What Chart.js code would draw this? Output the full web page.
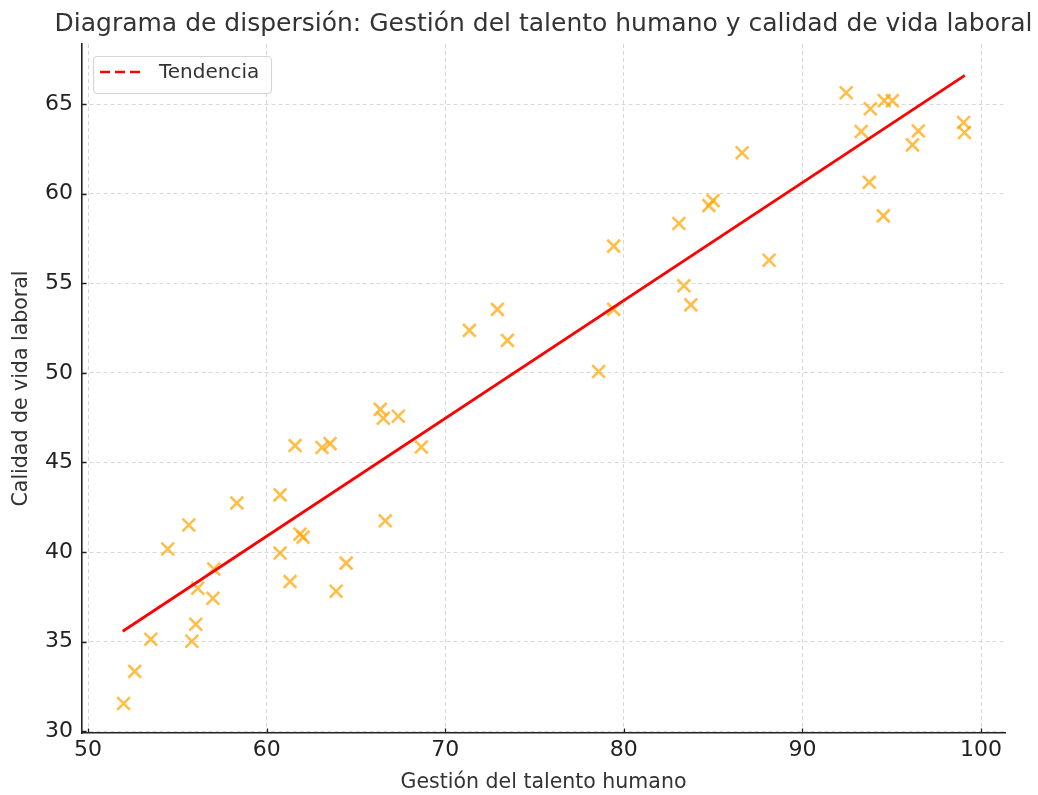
<!DOCTYPE html>
<html>
<head>
<meta charset="utf-8">
<script src="https://cdn.jsdelivr.net/npm/chart.js@4"></script>
<style>
  body { margin: 0; background: #fff; }
  canvas { display: block; }
</style>
</head>
<body>
<canvas id="chart" width="1038" height="795"></canvas>
<script>
// datos
const talento = [51.99, 52.61, 53.51, 54.46, 55.64, 55.81, 56.03, 56.14, 56.99, 57.04,
  58.33, 60.75, 60.75, 61.31, 61.59, 61.87, 62.04, 63.10, 63.55, 63.89,
  64.45, 66.36, 66.53, 66.64, 67.37, 68.66, 71.35, 72.92, 73.48, 78.59,
  79.43, 79.43, 83.08, 83.36, 83.75, 84.76, 84.99, 86.62, 88.13, 92.45,
  93.29, 93.74, 93.80, 94.53, 94.58, 95.03, 96.16, 96.49, 99.02, 99.07];
const calidad = [31.55, 33.34, 35.13, 40.17, 41.51, 35.02, 35.97, 37.98, 37.42, 39.05,
  42.74, 39.94, 43.19, 38.35, 45.94, 41.00, 40.83, 45.83, 46.05, 37.81,
  39.38, 47.96, 47.46, 41.74, 47.58, 45.86, 52.37, 53.54, 51.81, 50.07,
  57.07, 53.54, 58.33, 54.86, 53.79, 59.33, 59.61, 62.28, 56.28, 65.63,
  63.47, 60.63, 64.74, 58.76, 65.19, 65.19, 62.72, 63.50, 63.97, 63.41];

const tendenciaX = [51.94, 99.09];
const tendenciaY = [35.58, 66.6];

const xTicks = [50, 60, 70, 80, 90, 100];
const yTicks = [30, 35, 40, 45, 50, 55, 60, 65];

const titulo = 'Diagrama de dispersión: Gestión del talento humano y calidad de vida laboral';

const puntos = talento.map((x, i) => ({ x: x, y: calidad[i] }));
const lineaTendencia = tendenciaX.map((x, i) => ({ x: x, y: tendenciaY[i] }));

const FONT = "'DejaVu Sans', sans-serif";

// título centrado sobre el área, leyenda dentro y marcas de eje hacia dentro
const extrasPlugin = {
  id: 'extras',
  afterDraw(chart) {
    const ctx = chart.ctx;
    const area = chart.chartArea;
    const sx = chart.scales.x, sy = chart.scales.y;

    ctx.save();
    ctx.fillStyle = '#333';
    ctx.font = '25px ' + FONT;
    ctx.textAlign = 'center';
    ctx.textBaseline = 'middle';
    ctx.fillText(titulo, (area.left + area.right) / 2, 24);
    ctx.textAlign = 'left';

    ctx.strokeStyle = '#222';
    ctx.lineWidth = 1.3;
    ctx.beginPath();
    xTicks.forEach(v => {
      const px = Math.round(sx.getPixelForValue(v)) + 0.5;
      ctx.moveTo(px, area.bottom);
      ctx.lineTo(px, area.bottom - 4.5);
    });
    yTicks.forEach(v => {
      const py = Math.round(sy.getPixelForValue(v)) + 0.5;
      ctx.moveTo(area.left, py);
      ctx.lineTo(area.left + 4.5, py);
    });
    ctx.stroke();

    const x = area.left + 11, y = area.top + 12, w = 178, h = 37;
    ctx.fillStyle = 'rgba(255,255,255,0.8)';
    ctx.strokeStyle = '#d6d6d6';
    ctx.lineWidth = 1.2;
    ctx.beginPath();
    ctx.roundRect(x + 0.5, y + 0.5, w, h, 4);
    ctx.fill();
    ctx.stroke();
    ctx.strokeStyle = 'red';
    ctx.lineWidth = 2.6;
    ctx.setLineDash([10, 5]);
    ctx.beginPath();
    ctx.moveTo(x + 7, y + 16);
    ctx.lineTo(x + 50, y + 16);
    ctx.stroke();
    ctx.setLineDash([]);
    ctx.fillStyle = '#333';
    ctx.font = '20px ' + FONT;
    ctx.fillText(chart.data.datasets[1].label, x + 66, y + 17);
    ctx.restore();
  }
};

new Chart(document.getElementById('chart').getContext('2d'), {
  type: 'scatter',
  data: {
    datasets: [
      {
        label: 'Datos',
        data: puntos,
        pointStyle: 'crossRot',
        pointRadius: 9,
        pointHoverRadius: 9,
        borderWidth: 2.6,
        borderColor: 'rgba(255,165,0,0.72)',
        backgroundColor: 'rgba(255,165,0,0.72)',
        order: 2
      },
      {
        label: 'Tendencia',
        data: lineaTendencia,
        type: 'line',
        showLine: true,
        borderColor: 'red',
        borderWidth: 2.8,
        pointRadius: 0,
        fill: false,
        order: 1
      }
    ]
  },
  options: {
    responsive: false,
    animation: false,
    layout: { padding: { left: 0, right: 33, top: 44, bottom: 0 } },
    plugins: {
      legend: { display: false },
      tooltip: { enabled: false },
      title: { display: false }
    },
    scales: {
      x: {
        type: 'linear',
        min: 49.66,
        max: 101.34,
        afterBuildTicks: s => { s.ticks = xTicks.map(v => ({ value: v })); },
        afterFit: s => { s.height = 62; },
        grid: {
          color: '#d8d8d8',
          lineWidth: 1,
          drawTicks: false
        },
        border: { display: true, color: '#222', width: 1.6, dash: [4, 3] },
        ticks: {
          color: '#222',
          font: { family: FONT, size: 22 },
          padding: 4,
          maxRotation: 0
        },
        title: {
          display: true,
          text: 'Gestión del talento humano',
          color: '#333',
          font: { family: FONT, size: 20.5 },
          padding: { top: 0, bottom: 0 }
        }
      },
      y: {
        type: 'linear',
        min: 29.9,
        max: 68.35,
        afterBuildTicks: s => { s.ticks = yTicks.map(v => ({ value: v })); },
        afterFit: s => { s.width = 82; },
        grid: {
          color: '#d8d8d8',
          lineWidth: 1,
          drawTicks: false
        },
        border: { display: true, color: '#222', width: 1.6, dash: [4, 3] },
        ticks: {
          color: '#222',
          font: { family: FONT, size: 22 },
          padding: 9
        },
        title: {
          display: true,
          text: 'Calidad de vida laboral',
          color: '#333',
          font: { family: FONT, size: 20.5 },
          padding: { top: 9, bottom: 0 }
        }
      }
    }
  },
  plugins: [extrasPlugin]
});
</script>
</body>
</html>
